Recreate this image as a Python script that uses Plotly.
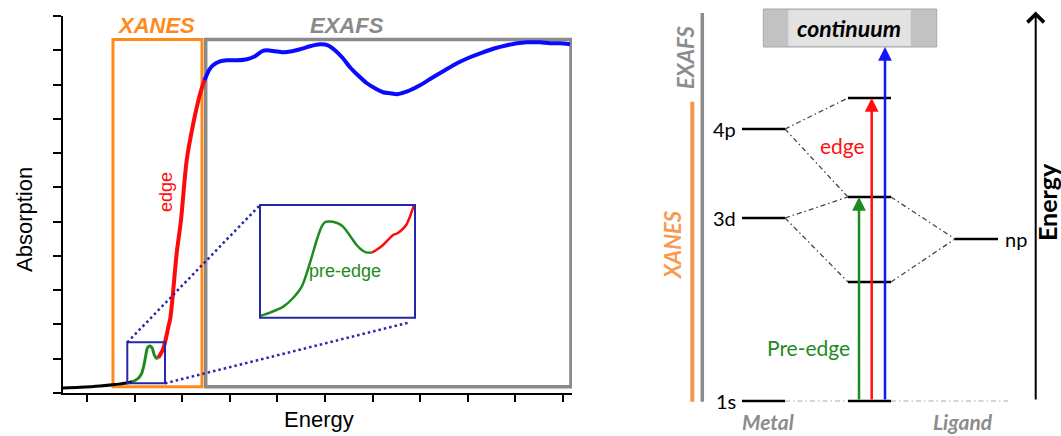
import plotly.graph_objects as go

W, H = 1061, 436

# ---------------- absorption spectrum (arbitrary units) ----------------
base_E = [-0.504, -0.147, 0.273, 0.588, 0.861, 0.945]
base_A = [0.146, 0.166, 0.204, 0.248, 0.297, 0.335]

pre_E = [0.945, 1.008, 1.078, 1.149, 1.187, 1.218, 1.267, 1.300, 1.324, 1.372, 1.414, 1.464, 1.498]
pre_A = [0.335, 0.364, 0.429, 0.574, 0.758, 0.962, 1.303, 1.362, 1.370, 1.303, 1.108, 1.012, 1.029]

edge_E = [1.498, 1.534, 1.590, 1.624, 1.674, 1.708, 1.748, 1.800, 1.884, 1.975, 2.095,
          2.233, 2.359, 2.431, 2.468]
edge_A = [1.029, 1.108, 1.254, 1.399, 1.691, 1.924, 2.157, 2.808, 4.073, 5.044, 6.793,
          7.863, 8.638, 8.980, 9.125]

exafs_E = [2.468, 2.563, 2.647, 2.794, 2.941, 3.151, 3.361, 3.529, 3.676, 3.782, 3.950,
           4.118, 4.307, 4.475, 4.685, 4.895, 5.063, 5.210, 5.378, 5.525, 5.693, 5.882,
           6.050, 6.218, 6.366, 6.513, 6.681, 6.786, 6.996, 7.269, 7.521, 7.773, 8.046,
           8.319, 8.571, 8.824, 9.034, 9.244, 9.517, 9.727, 9.937, 10.147]
exafs_A = [9.125, 9.417, 9.563, 9.679, 9.708, 9.708, 9.738, 9.825, 9.971, 10.000, 9.971,
           9.942, 9.971, 10.029, 10.117, 10.175, 10.146, 10.000, 9.767, 9.504, 9.271, 9.038,
           8.892, 8.776, 8.746, 8.717, 8.776, 8.834, 8.980, 9.213, 9.417, 9.621, 9.796,
           9.942, 10.058, 10.146, 10.204, 10.233, 10.233, 10.204, 10.204, 10.175]

# magnified pre-edge region (inset)
inset_pre_E = [0.847, 0.898, 0.966, 1.016, 1.060, 1.102, 1.137, 1.162, 1.179, 1.200, 1.220,
               1.246, 1.271, 1.297, 1.322, 1.343, 1.367, 1.389, 1.418]
inset_pre_A = [0.301, 0.336, 0.400, 0.492, 0.612, 0.863, 1.107, 1.248, 1.295, 1.303, 1.301,
               1.282, 1.248, 1.181, 1.107, 1.049, 1.001, 0.976, 0.972]
inset_edge_E = [1.418, 1.445, 1.476, 1.501, 1.527, 1.547, 1.571, 1.594, 1.613, 1.634]
inset_edge_A = [0.972, 1.006, 1.054, 1.107, 1.160, 1.176, 1.213, 1.266, 1.354, 1.478]

# spectral windows
xanes_window = [0.546, 2.416]
exafs_window = [2.494, 10.168]
window_A = [0.184, 10.312]
zoom_window_E = [0.847, 1.639]
zoom_window_A = [0.283, 1.478]

x_ticks = list(range(0, 11))
y_ticks = list(range(0, 12))

# ---------------- energy level diagram (arbitrary energy units) ----------------
metal_labels = ["1s", "3d", "4p"]
metal_E = [0.0, 18.3, 27.2]
ligand_labels = ["np"]
ligand_E = [16.2]
mo_E = [0.0, 11.9, 20.4, 30.3]
continuum_E = [35.4, 39.2]
# (metal level, molecular level) correlations and (ligand level, molecular level)
metal_corr = [(27.2, 30.3), (27.2, 20.4), (18.3, 20.4), (18.3, 11.9)]
ligand_corr = [(16.2, 20.4), (16.2, 11.9)]
transitions = [("pre-edge", 20.4, "#1f8a1f"), ("edge", 30.3, "#ff1010"), ("continuum", 35.4, "#1414ff")]
exafs_bar = [-0.07, 38.8]
xanes_bar = [-0.07, 29.93]
energy_axis = [0.0, 38.95]

# column positions of the diagram (x2 axis spans the figure width)
METAL = (742, 785)
MO = (848, 891)
LIGAND = (955, 998)
ARROW_X = [859, 871.7, 885]

ORANGE = "#ff8a1c"
GREY = "#8a8a8a"
NAVY = "#2626a8"
LEFT_FONT = "Liberation Sans, Arial, sans-serif"
RIGHT_FONT = "Lato, Carlito, sans-serif"

fig = go.Figure()

# spectrum segments
fig.add_trace(go.Scatter(x=base_E, y=base_A, mode="lines",
                         line=dict(color="black", width=3, shape="spline")))
fig.add_trace(go.Scatter(x=pre_E, y=pre_A, mode="lines",
                         line=dict(color="#1f8a1f", width=3, shape="spline", smoothing=0.8)))
fig.add_trace(go.Scatter(x=edge_E, y=edge_A, mode="lines",
                         line=dict(color="#ff0a0a", width=4, shape="spline", smoothing=0.8)))
fig.add_trace(go.Scatter(x=exafs_E, y=exafs_A, mode="lines",
                         line=dict(color="#0a0aff", width=4, shape="spline", smoothing=0.6)))

# inset
fig.add_trace(go.Scatter(x=inset_pre_E, y=inset_pre_A, mode="lines", xaxis="x3", yaxis="y3",
                         line=dict(color="#1f8a1f", width=2.5, shape="spline", smoothing=0.8)))
fig.add_trace(go.Scatter(x=inset_edge_E, y=inset_edge_A, mode="lines", xaxis="x3", yaxis="y3",
                         line=dict(color="#ff0a0a", width=2.5, shape="spline", smoothing=0.6)))

# ---- diagram traces ----
def seg(x0, x1, y0, y1, color, width, dash=None):
    fig.add_trace(go.Scatter(x=[x0, x1], y=[y0, y1], mode="lines", xaxis="x2", yaxis="y2",
                             line=dict(color=color, width=width, dash=dash)))

DASHDOT = "5px,3px,1.5px,3px"
# 1s guide line
seg(METAL[1], MO[0], metal_E[0], mo_E[0], "#c6c6c6", 1.3, DASHDOT)
seg(MO[1], LIGAND[1] + 10, mo_E[0], mo_E[0], "#c6c6c6", 1.3, DASHDOT)
for em, emo in metal_corr:
    seg(METAL[1], MO[0], em, emo, "#444444", 1.3, DASHDOT)
for el, emo in ligand_corr:
    seg(MO[1], LIGAND[0], emo, el, "#444444", 1.3, DASHDOT)

for e in metal_E:
    seg(METAL[0], METAL[1], e, e, "black", 2.5)
for e in mo_E:
    seg(MO[0], MO[1], e, e, "black", 2.5)
for e in ligand_E:
    seg(LIGAND[0], LIGAND[1], e, e, "black", 2.5)

# XANES / EXAFS ranges
seg(702.3, 702.3, exafs_bar[0], exafs_bar[1], "#8c8c8c", 3.5)
seg(692.3, 692.3, xanes_bar[0], xanes_bar[1], "#f79646", 4)

shapes = []
# spectral window boxes
shapes.append(dict(type="rect", xref="x", yref="y", x0=xanes_window[0], x1=xanes_window[1],
                   y0=window_A[0], y1=window_A[1], line=dict(color=ORANGE, width=3), layer="below"))
shapes.append(dict(type="rect", xref="x", yref="y", x0=exafs_window[0], x1=exafs_window[1],
                   y0=window_A[0], y1=window_A[1], line=dict(color=GREY, width=3.5), layer="below"))
shapes.append(dict(type="rect", xref="x", yref="y", x0=zoom_window_E[0], x1=zoom_window_E[1],
                   y0=zoom_window_A[0], y1=zoom_window_A[1], line=dict(color=NAVY, width=2)))
shapes.append(dict(type="rect", xref="x3 domain", yref="y3 domain", x0=0, x1=1, y0=0, y1=1,
                   line=dict(color=NAVY, width=2)))
# zoom connectors (inset corners expressed in main-axis units)
inset_tl = (3.634, 5.481)
inset_br = (6.744, 2.050)
shapes.append(dict(type="line", xref="x", yref="y", x0=zoom_window_E[0], y0=zoom_window_A[1],
                   x1=inset_tl[0], y1=inset_tl[1], line=dict(color=NAVY, width=2.5, dash="2.5px,3px")))
shapes.append(dict(type="line", xref="x", yref="y", x0=zoom_window_E[1], y0=zoom_window_A[0],
                   x1=inset_br[0], y1=inset_br[1], line=dict(color=NAVY, width=2.5, dash="2.5px,3px")))
# continuum band
shapes.append(dict(type="rect", xref="x2", yref="y2", x0=763.3, x1=936.7,
                   y0=continuum_E[0], y1=continuum_E[1], fillcolor="#c2c2c2",
                   line=dict(color="#a8a8a8", width=1)))
shapes.append(dict(type="rect", xref="x2", yref="y2", x0=788.3, x1=910.7,
                   y0=continuum_E[0] + 0.1, y1=continuum_E[1] - 0.1, fillcolor="#e2e2e2",
                   line=dict(width=0)))

annotations = []

def text(x, y, s, size, color, family, ref="paper", angle=0, bold=False, italic=False,
         xanchor="center", yanchor="middle"):
    if bold:
        s = "<b>" + s + "</b>"
    if italic:
        s = "<i>" + s + "</i>"
    if ref == "paper":
        xr, yr, xv, yv = "paper", "paper", x / W, 1 - y / H
    else:
        xr, yr, xv, yv = "x2", "y2", x, y
    annotations.append(dict(x=xv, y=yv, xref=xr, yref=yr, text=s, showarrow=False,
                            textangle=angle, xanchor=xanchor, yanchor=yanchor,
                            font=dict(size=size, color=color, family=family)))

# spectrum labels
text(156, 25, "XANES", 22, ORANGE, LEFT_FONT, bold=True, italic=True)
text(347, 25, "EXAFS", 22, GREY, LEFT_FONT, bold=True, italic=True)
text(24, 220, "Absorption", 22, "black", LEFT_FONT, angle=-90)
text(319, 419, "Energy", 22, "black", LEFT_FONT)
text(166, 192, "edge", 18, "#ff0a0a", LEFT_FONT, angle=-90)
text(345, 271, "pre-edge", 18, "#1f8a1f", LEFT_FONT)

# diagram labels
for lab, e in zip(metal_labels, metal_E):
    text(738, e, lab, 20, "black", RIGHT_FONT, ref="x2", xanchor="right")
for lab, e in zip(ligand_labels, ligand_E):
    text(1003, e, lab, 20, "black", RIGHT_FONT, ref="x2", xanchor="left")
text(849, 37.3, "continuum", 23, "black", RIGHT_FONT, ref="x2", bold=True, italic=True)
text(842, 25.6, "edge", 21, "#ff1010", RIGHT_FONT, ref="x2")
text(808, 5.4, "Pre-edge", 21, "#1f8a1f", RIGHT_FONT, ref="x2")
text(768, 436, "Metal", 21, "#8c8c8c", RIGHT_FONT, bold=True, italic=True, yanchor="bottom")
text(963, 436, "Ligand", 21, "#8c8c8c", RIGHT_FONT, bold=True, italic=True, yanchor="bottom")
text(685, 34.4, "EXAFS", 22, "#8c8c8c", RIGHT_FONT, ref="x2", angle=-90, bold=True, italic=True)
text(672, 15.6, "XANES", 22, "#f89a52", RIGHT_FONT, ref="x2", angle=-90, bold=True, italic=True)
text(1047, 19.9, "Energy", 25, "black", RIGHT_FONT, ref="x2", angle=-90, bold=True)

# transition arrows
for (name, target, color), ax in zip(transitions, ARROW_X):
    annotations.append(dict(x=ax, y=target, ax=ax, ay=mo_E[0], xref="x2", yref="y2",
                            axref="x2", ayref="y2", text="", showarrow=True,
                            arrowhead=2, arrowsize=1.1, arrowwidth=2.5, arrowcolor=color,
                            standoff=0, startstandoff=0))
# energy axis arrow
annotations.append(dict(x=1035.7, y=energy_axis[1], ax=1035.7, ay=energy_axis[0],
                        xref="x2", yref="y2", axref="x2", ayref="y2", text="",
                        showarrow=True, arrowhead=4, arrowsize=1.6, arrowwidth=2,
                        arrowcolor="black", standoff=0))

axis_common = dict(showgrid=False, zeroline=False, showticklabels=False)
fig.update_layout(
    width=W, height=H,
    margin=dict(l=0, r=0, t=0, b=0),
    paper_bgcolor="white", plot_bgcolor="rgba(0,0,0,0)",
    showlegend=False,
    xaxis=dict(domain=[63 / W, 572 / W], range=[-0.504, 10.19], tickvals=x_ticks,
               ticks="outside", ticklen=7, tickwidth=2, tickcolor="black",
               showline=True, linewidth=2, linecolor="black", **axis_common),
    yaxis=dict(domain=[1 - 393 / H, 1 - 16 / H], range=[0, 11], tickvals=y_ticks,
               ticks="outside", ticklen=8, tickwidth=2, tickcolor="black",
               showline=True, linewidth=2, linecolor="black", **axis_common),
    xaxis2=dict(domain=[0, 1], range=[0, W], visible=False, anchor="y2"),
    yaxis2=dict(domain=[0, 1], range=[-3.5, 40.1], visible=False, anchor="x2"),
    xaxis3=dict(domain=[260 / W, 415 / W], range=zoom_window_E, visible=False, anchor="y3"),
    yaxis3=dict(domain=[1 - 317.7 / H, 1 - 205 / H], range=zoom_window_A, visible=False,
                anchor="x3"),
    shapes=shapes,
    annotations=annotations,
)

fig.write_html("out.html")
